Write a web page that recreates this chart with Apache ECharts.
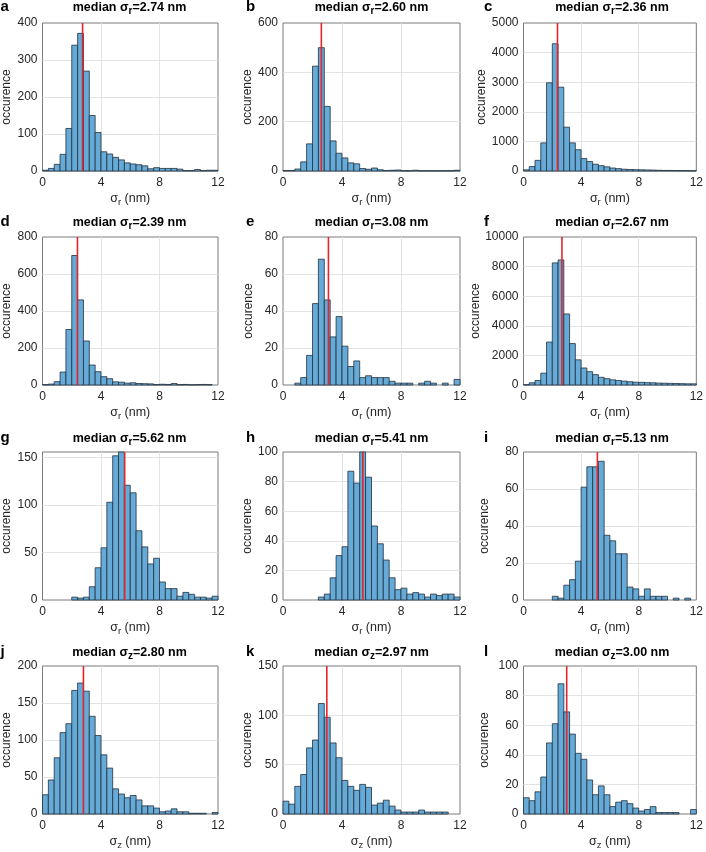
<!DOCTYPE html>
<html><head><meta charset="utf-8">
<script src="https://cdn.jsdelivr.net/npm/echarts@6/dist/echarts.min.js"></script>
<style>html,body{margin:0;padding:0;background:#fff}#c{width:706px;height:852px}</style>
</head><body><div id="c"></div>
<script>
// ---------------- DATA ----------------
const binEdges = [0,0.4,0.8,1.2,1.6,2.0,2.4,2.8,3.2,3.6,4.0,4.4,4.8,5.2,5.6,6.0,6.4,6.8,7.2,7.6,8.0,8.4,8.8,9.2,9.6,10.0,10.4,10.8,11.2,11.6,12.0];
const xTicks = [0,4,8,12];
const panelLetters = ['a','b','c','d','e','f','g','h','i','j','k','l'];
const panelVariable = ['r','r','r','r','r','r','r','r','r','z','z','z'];
const medians = [2.74,2.60,2.36,2.39,3.08,2.67,5.62,5.41,5.13,2.80,2.97,3.00];
const yMax = [400,600,5000,800,80,10000,156,100,80,200,150,100];
const yInterval = [100,200,1000,200,20,2000,50,20,20,50,50,20];

const countsA = [2,7,18,45,115,340,372,270,150,104,52,46,37,30,22,19,17,14,6,9,7,7,7,5,1,1,4,1,2,2];
const countsB = [2,2,8,37,110,425,500,262,122,72,53,33,29,10,7,12,5,2,3,4,1,1,3,1,1,1,1,1,1,3];
const countsC = [40,150,360,950,2980,4300,2830,1480,950,720,420,320,230,180,140,100,80,60,50,45,40,35,30,25,20,18,15,12,10,8];
const countsD = [2,5,18,70,300,700,460,238,108,72,45,34,17,15,10,12,8,7,6,2,4,3,8,2,3,1,2,3,2,0];
const countsE = [0,0,1,4,16,44,68,46,26,37,21,10,13,4,5,4,4,4,2,1,1,1,0,1,2,1,0,1,0,3];
const countsF = [20,150,300,800,2900,8250,8450,4800,2800,1700,1150,900,700,520,430,350,300,260,220,190,180,160,150,130,120,110,100,90,80,80];
const countsG = [0,0,0,0,0,3,2,3,14,34,55,103,152,156,121,113,73,56,38,44,19,12,12,4,8,6,3,3,2,4];
const countsH = [0,0,0,0,0,0,2,4,15,30,36,87,79,100,83,50,38,27,15,7,8,4,5,4,2,4,3,4,4,2];
const countsI = [0,0,0,0,0,2,1,8,11,21,61,72,72,75,35,32,25,25,7,6,2,6,2,2,2,0,1,0,1,0];
const countsJ = [26,46,76,110,122,167,177,166,132,106,80,62,34,27,22,25,19,11,11,8,3,4,7,3,3,1,1,1,0,2];
const countsK = [13,10,28,40,67,75,112,98,72,57,34,28,24,30,27,9,11,14,8,4,2,2,2,4,2,2,2,2,0,0];
const countsL = [11,9,15,25,48,61,88,69,54,41,37,23,13,19,13,5,8,9,7,4,2,3,5,1,1,1,1,0,0,3];

const allCounts = [countsA,countsB,countsC,countsD,countsE,countsF,countsG,countsH,countsI,countsJ,countsK,countsL];

// ---------------- LAYOUT / STYLE ----------------
const COL_LEFT = [41, 283, 523.5];
const ROW_TOP = [23, 237, 452, 666];
const PW = 177, PH = 148;
const TITLE_Y = [7.5, 223, 439, 652.5];
const LETTER_X = [0.5, 246, 484];
const Y_NAME_GAP = [29.5, 28.5, 33];
const FONT = '"Liberation Sans", Arial, Helvetica, sans-serif';
const TXT = '#262626';
const BAR_FILL = '#66aad7';
const BAR_EDGE = '#22303d';
const MED_COLOR = '#e3262b';

const chart = echarts.init(document.getElementById('c'), null, {renderer: 'canvas'});

const grids = [], xAxes = [], yAxes = [], series = [], graphics = [];

function renderBar(params, api) {
  const h = api.value(2);
  if (!(h > 0)) return null;
  const p0 = api.coord([api.value(0), h]);
  const p1 = api.coord([api.value(1), 0]);
  return {
    type: 'rect',
    shape: {x: p0[0], y: p0[1], width: p1[0] - p0[0], height: p1[1] - p0[1]},
    style: {fill: BAR_FILL, stroke: BAR_EDGE, lineWidth: 0.8}
  };
}

allCounts.forEach((counts, i) => {
  const r = Math.floor(i / 3), c = i % 3;
  const left = COL_LEFT[c], top = ROW_TOP[r];
  const v = panelVariable[i];
  const iv = yInterval[i];
  grids.push({left: left, top: top, width: PW, height: PH, show: true,
    borderColor: '#7b7b7b', borderWidth: 1, backgroundColor: 'transparent', containLabel: false});
  xAxes.push({
    type: 'value', gridIndex: i, min: xTicks[0], max: xTicks[xTicks.length - 1], interval: xTicks[1] - xTicks[0],
    name: 'σ{s|' + v + '} (nm)', nameLocation: 'middle', nameGap: 20,
    nameTextStyle: {fontFamily: FONT, fontSize: 12.5, color: TXT,
      rich: {s: {fontFamily: FONT, fontSize: 9.5, color: TXT, padding: [6, 0, 0, 0]}}},
    axisLine: {show: false}, axisTick: {show: false},
    axisLabel: {fontFamily: FONT, fontSize: 12, color: TXT, margin: 6},
    splitLine: {show: true, showMinLine: false, showMaxLine: false, lineStyle: {color: '#e3e3e3', width: 1}}
  });
  yAxes.push({
    type: 'value', gridIndex: i, min: 0, max: yMax[i], interval: iv,
    name: 'occurence', nameLocation: 'middle', nameGap: Y_NAME_GAP[c], nameRotate: 90,
    nameTextStyle: {fontFamily: FONT, fontSize: 12, color: TXT},
    axisLine: {show: false}, axisTick: {show: false},
    axisLabel: {fontFamily: FONT, fontSize: 12, color: TXT, margin: 5,
      formatter: (val) => (Math.abs(val / iv - Math.round(val / iv)) < 1e-9 ? String(val) : '')},
    splitLine: {show: true, showMinLine: false, showMaxLine: false, lineStyle: {color: '#e3e3e3', width: 1}}
  });
  series.push({
    type: 'custom', xAxisIndex: i, yAxisIndex: i, renderItem: renderBar, silent: true,
    encode: {x: [0, 1], y: 2}, z: 2,
    data: counts.map((h, k) => [binEdges[k], binEdges[k + 1], h])
  });
  series.push({
    type: 'line', xAxisIndex: i, yAxisIndex: i, symbol: 'none', silent: true, z: 5,
    lineStyle: {color: MED_COLOR, width: 1.6}, animation: false,
    data: [[medians[i], 0], [medians[i], yMax[i]]]
  });
  graphics.push({
    type: 'text', x: left + PW / 2, y: TITLE_Y[r], silent: true,
    style: {
      text: 'median σ{s|' + v + '}=' + medians[i].toFixed(2) + ' nm',
      fontFamily: FONT, fontSize: 12.5, fontWeight: 'bold', fill: '#000',
      align: 'center', verticalAlign: 'middle',
      rich: {s: {fontFamily: FONT, fontSize: 10, fontWeight: 'bold', fill: '#000', padding: [7, 0, 0, 0]}}
    }
  });
  graphics.push({
    type: 'text', x: LETTER_X[c], y: TITLE_Y[r] - 1, silent: true,
    style: {text: panelLetters[i], fontFamily: FONT, fontSize: 15, fontWeight: 'bold', fill: '#000',
      align: 'left', verticalAlign: 'middle'}
  });
});

chart.setOption({
  backgroundColor: '#ffffff',
  animation: false,
  grid: grids, xAxis: xAxes, yAxis: yAxes, series: series,
  graphic: graphics
});
</script>
</body></html>
